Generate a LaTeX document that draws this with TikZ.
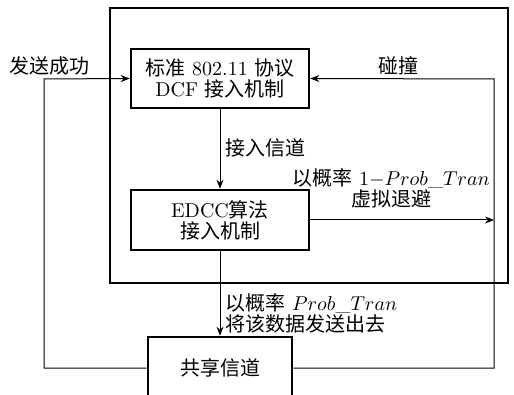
\documentclass[tikz,border=0pt]{standalone}
\usepackage{fontspec}
\newfontfamily\cjk{Noto Sans CJK SC}
\newcommand{\zh}[1]{{\cjk #1}}
\usetikzlibrary{arrows.meta,positioning}

\begin{document}
\begin{tikzpicture}[
    x=0.5pt, y=-0.5pt,
    font=\fontsize{10}{10.5}\selectfont,
    block/.style={rectangle, draw, line width=1.3pt, align=center, inner sep=0pt},
    link/.style={line width=0.5pt},
    arr/.style={link, -{Stealth[length=4.5pt, width=3.5pt]}},
    lbl/.style={inner sep=0pt, align=center}
]
\useasboundingbox (0,0) rectangle (514,395);
\clip (0,0) rectangle (514,395);

\node[block, minimum width=199pt, minimum height=137.5pt] (frame) at (309,145.5) {};
\node[block, minimum width=89pt, minimum height=29.5pt] (dcf) at (220,78.5) {\zh{标准} 802.11 \zh{协议}\\DCF \zh{接入机制}};
\node[block, minimum width=89pt, minimum height=30pt] (edcc) at (220,220) {EDCC\zh{算法}\\\zh{接入机制}};
\node[block, minimum width=72pt, minimum height=31pt] (chan) at (220,368) {\raisebox{1pt}{\zh{共享信道}}};

\coordinate (lb) at (44,368);
\coordinate (lt) at (44,79);
\coordinate (rb) at (494,368);
\coordinate (rt) at (494,79);
\coordinate (rm) at (494,220);

% connectors
\draw[arr] (dcf) -- (edcc);
\draw[arr] (edcc) -- (chan);
\draw[arr] (edcc.east) -- (rm);
\draw[arr] (chan.west) -- (lb) -- (lt) -- (dcf.west);
\draw[arr] (chan.east) -- (rb) -- (rt) -- (dcf.east);

% labels
\node[lbl] (ok) at (50,66) {\zh{发送成功}};
\node[lbl] (coll) at (398,66) {\zh{碰撞}};
\node[lbl, anchor=west] (acc) at (225,148) {\zh{接入信道}};
\node[lbl] (back) at (391,188) {\zh{以概率} $1{-}Prob\_Tran$\\\zh{虚拟退避}};
\node[lbl, anchor=west, align=left] (send) at (225,313) {\zh{以概率} $Prob\_Tran$\\\zh{将该数据发送出去}};

\end{tikzpicture}
\end{document}
